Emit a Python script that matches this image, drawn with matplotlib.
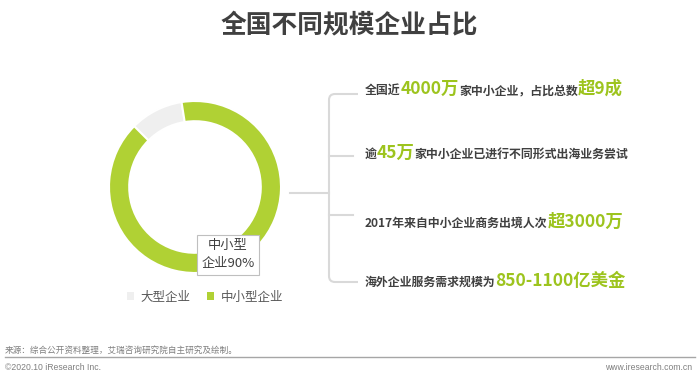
import matplotlib
matplotlib.use("Agg")
import matplotlib.pyplot as plt
from matplotlib.path import Path
from matplotlib.patches import PathPatch, Patch
from matplotlib.lines import Line2D

plt.rcParams['font.family'] = ['Noto Sans CJK SC', 'DejaVu Sans']

# ---- data ----
title = "全国不同规模企业占比"
categories = ["大型企业", "中小型企业"]
shares = [10, 90]
label_text = "中小型\n企业90%"
facts = [
    [("全国近", "n"), ("4000万", "g"), ("家中小企业，占比总数", "n"), ("超9成", "g")],
    [("逾", "n"), ("45万", "g"), ("家中小企业已进行不同形式出海业务尝试", "n")],
    [("2017年来自中小企业商务出境人次", "n"), ("超3000万", "g")],
    [("海外企业服务需求规模为", "n"), ("850-1100亿美金", "g")],
]
source = "来源：综合公开资料整理，艾瑞咨询研究院自主研究及绘制。"
copyright_txt = "©2020.10 iResearch Inc."
website = "www.iresearch.com.cn"

GREEN = "#b0d134"
GREEN_T = "#9dc41e"
GRAY = "#efefef"
DARK = "#404040"

W, H = 700, 379
fig = plt.figure(figsize=(W / 100, H / 100), dpi=100)
fig.patch.set_facecolor("white")

# ---- donut ----
cx, cy, r = 195, 187, 86
pax = fig.add_axes([(cx - r) / W, (H - cy - r) / H, 2 * r / W, 2 * r / H])
pax.pie(shares, colors=[GRAY, GREEN], startangle=99, counterclock=True,
        radius=1, wedgeprops=dict(width=0.235, edgecolor="white", linewidth=1.5))
pax.set_aspect("equal")
pax.set_xlim(-1, 1)
pax.set_ylim(-1, 1)
pax.axis("off")

# ---- overlay in pixel coords ----
ax = fig.add_axes([0, 0, 1, 1])
ax.set_xlim(0, W)
ax.set_ylim(H, 0)
ax.axis("off")
ax.patch.set_alpha(0)

ax.text(349, 25, title, ha="center", va="center", fontsize=18.5,
        fontweight="bold", color=DARK)

# label box
ax.text(228, 255, label_text, ha="center", va="center", fontsize=9.5,
        color="#404040", linespacing=1.5,
        bbox=dict(boxstyle="square,pad=0.35", fc="white", ec="#bfbfbf", lw=0.8))

# legend
handles = [Patch(facecolor=c, edgecolor="none") for c in [GRAY, GREEN]]
fig.legend(handles, categories, loc="center", bbox_to_anchor=(205 / W, 1 - 297 / H),
           ncol=2, frameon=False, fontsize=9, handlelength=0.6, handleheight=0.6,
           handletextpad=0.5, columnspacing=1.3, labelcolor="#595959")

# bracket
LC = "#d9d9d9"
x0, ytop, ybot, rr = 329, 94, 282, 6
verts = [(358, ytop), (x0 + rr, ytop), (x0, ytop), (x0, ytop + rr),
         (x0, ybot - rr), (x0, ybot), (x0 + rr, ybot), (358, ybot)]
codes = [Path.MOVETO, Path.LINETO, Path.CURVE3, Path.CURVE3,
         Path.LINETO, Path.CURVE3, Path.CURVE3, Path.LINETO]
ax.add_patch(PathPatch(Path(verts, codes), fc="none", ec=LC, lw=1.5))
ax.add_line(Line2D([290, x0], [193, 193], color=LC, lw=1.5))
for yb in [156, 215]:
    ax.add_line(Line2D([x0, 353], [yb, yb], color=LC, lw=1.5))

# rich text rows
fig.canvas.draw()
renderer = fig.canvas.get_renderer()
baselines = [94, 158, 227, 286]
for parts, yb in zip(facts, baselines):
    x = 365
    for txt, kind in parts:
        if kind == "g":
            t = ax.text(x, yb, txt, fontsize=12.5, fontweight="bold", color=GREEN_T,
                        ha="left", va="baseline")
        else:
            t = ax.text(x, yb, txt, fontsize=8.6, fontweight="bold", color=DARK,
                        ha="left", va="baseline")
        bb = t.get_window_extent(renderer=renderer)
        x += bb.width

# footer
ax.text(5, 350, source, fontsize=6.2, color="#7f7f7f", ha="left", va="center")
ax.add_line(Line2D([5, 695], [357, 357], color="#a6a6a6", lw=1))
ax.text(5, 368, copyright_txt, fontsize=6.2, color="#7f7f7f", ha="left", va="center",
        family=["Liberation Sans", "DejaVu Sans"])
ax.text(692, 368, website, fontsize=6.2, color="#7f7f7f", ha="right", va="center",
        family=["Liberation Sans", "DejaVu Sans"])

fig.savefig("out.png", dpi=100, facecolor="white")
